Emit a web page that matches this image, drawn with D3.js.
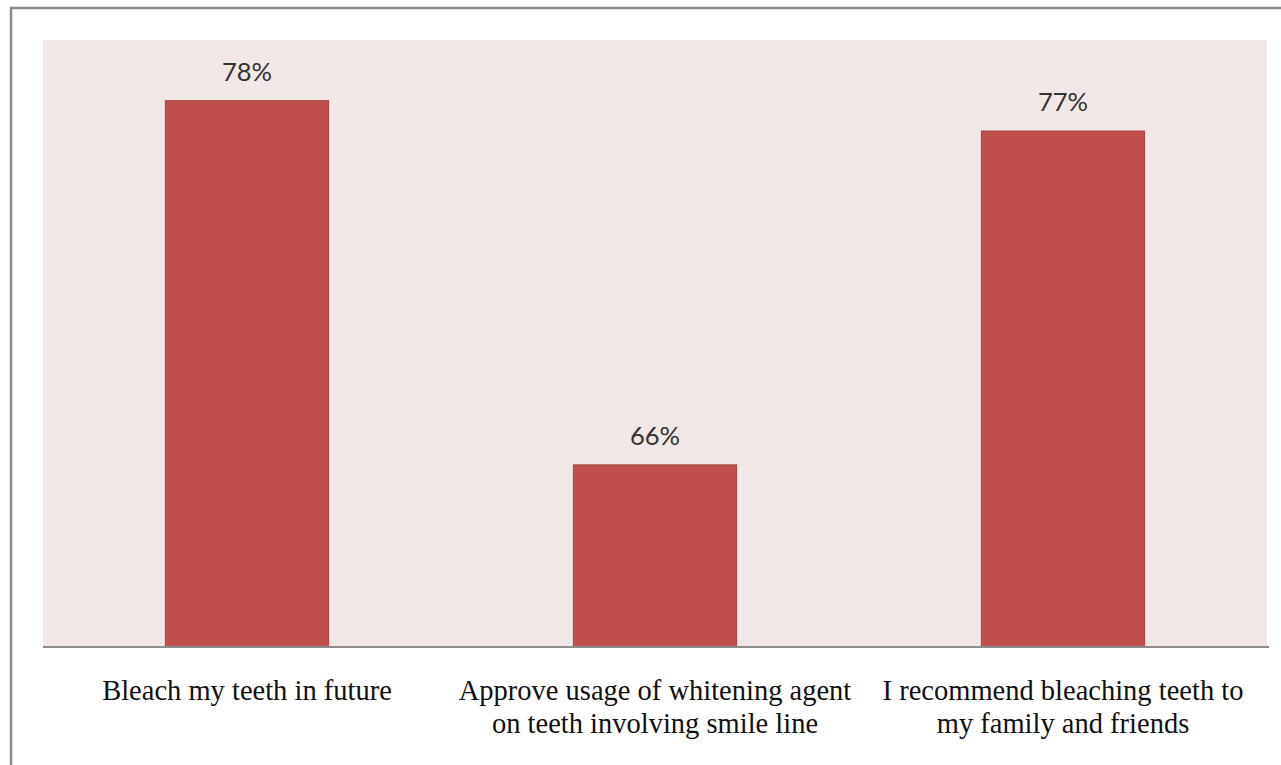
<!DOCTYPE html>
<html>
<head>
<meta charset="utf-8">
<script src="https://cdn.jsdelivr.net/npm/d3@7"></script>
<style>
  html, body { margin: 0; padding: 0; background: #ffffff; }
  svg { display: block; }
</style>
</head>
<body>
<svg id="chart" width="1281" height="765"></svg>
<script>
// Survey responses (percent agreeing)
const categories = [
  ["Bleach my teeth in future"],
  ["Approve usage of whitening agent", "on teeth involving smile line"],
  ["I recommend bleaching teeth to", "my family and friends"]
];
const values = [78, 66, 77];
const valueDomain = [60, 80];

const svg = d3.select("#chart");
const W = 1281, H = 765;

// outer frame (runs off the right and bottom edges)
svg.append("rect")
  .attr("x", 11).attr("y", 8)
  .attr("width", W).attr("height", H)
  .attr("fill", "#ffffff")
  .attr("stroke", "#8a8a8a")
  .attr("stroke-width", 2.5);

const plot = { left: 43, top: 40, right: 1267, bottom: 647 };

const x = d3.scaleBand()
  .domain(d3.range(values.length))
  .range([plot.left, plot.right])
  .paddingInner(0.6)
  .paddingOuter(0.3);

const y = d3.scaleLinear()
  .domain(valueDomain)
  .range([plot.bottom, plot.top]);

// plot background
svg.append("rect")
  .attr("x", plot.left).attr("y", plot.top)
  .attr("width", plot.right - plot.left)
  .attr("height", plot.bottom - plot.top)
  .attr("fill", "#f2e7e7");

// bars
svg.selectAll("rect.bar")
  .data(values)
  .join("rect")
  .attr("class", "bar")
  .attr("x", (d, i) => x(i))
  .attr("y", d => y(d))
  .attr("width", x.bandwidth())
  .attr("height", d => y(valueDomain[0]) - y(d))
  .attr("fill", "#c0504d")
  .attr("stroke", "#a3403d")
  .attr("stroke-width", 1);

// category axis line
const axis = d3.axisBottom(x).tickSize(0).tickFormat("");
const axisG = svg.append("g")
  .attr("transform", `translate(0,${plot.bottom})`)
  .call(axis);
axisG.select(".domain").attr("stroke", "#8c8c8c").attr("stroke-width", 2)
  .attr("d", `M${plot.left},0H${plot.right + 2}`);

// value labels
svg.selectAll("text.val")
  .data(values)
  .join("text")
  .attr("class", "val")
  .attr("x", (d, i) => x(i) + x.bandwidth() / 2)
  .attr("y", d => y(d) - 20)
  .attr("text-anchor", "middle")
  .attr("font-family", "Lato, 'Open Sans', sans-serif")
  .attr("font-size", 25.5)
  .attr("fill", "#333333")
  .text(d => d + "%");

// category labels
const catG = svg.selectAll("text.cat")
  .data(categories)
  .join("text")
  .attr("class", "cat")
  .attr("text-anchor", "middle")
  .attr("font-family", "'Liberation Serif', 'Times New Roman', serif")
  .attr("font-size", 28.5)
  .attr("fill", "#111111");

catG.each(function(lines, i) {
  const t = d3.select(this);
  lines.forEach((ln, j) => {
    t.append("tspan")
      .attr("x", x(i) + x.bandwidth() / 2)
      .attr("y", plot.bottom + 53 + j * 33)
      .text(ln);
  });
});
</script>
</body>
</html>
